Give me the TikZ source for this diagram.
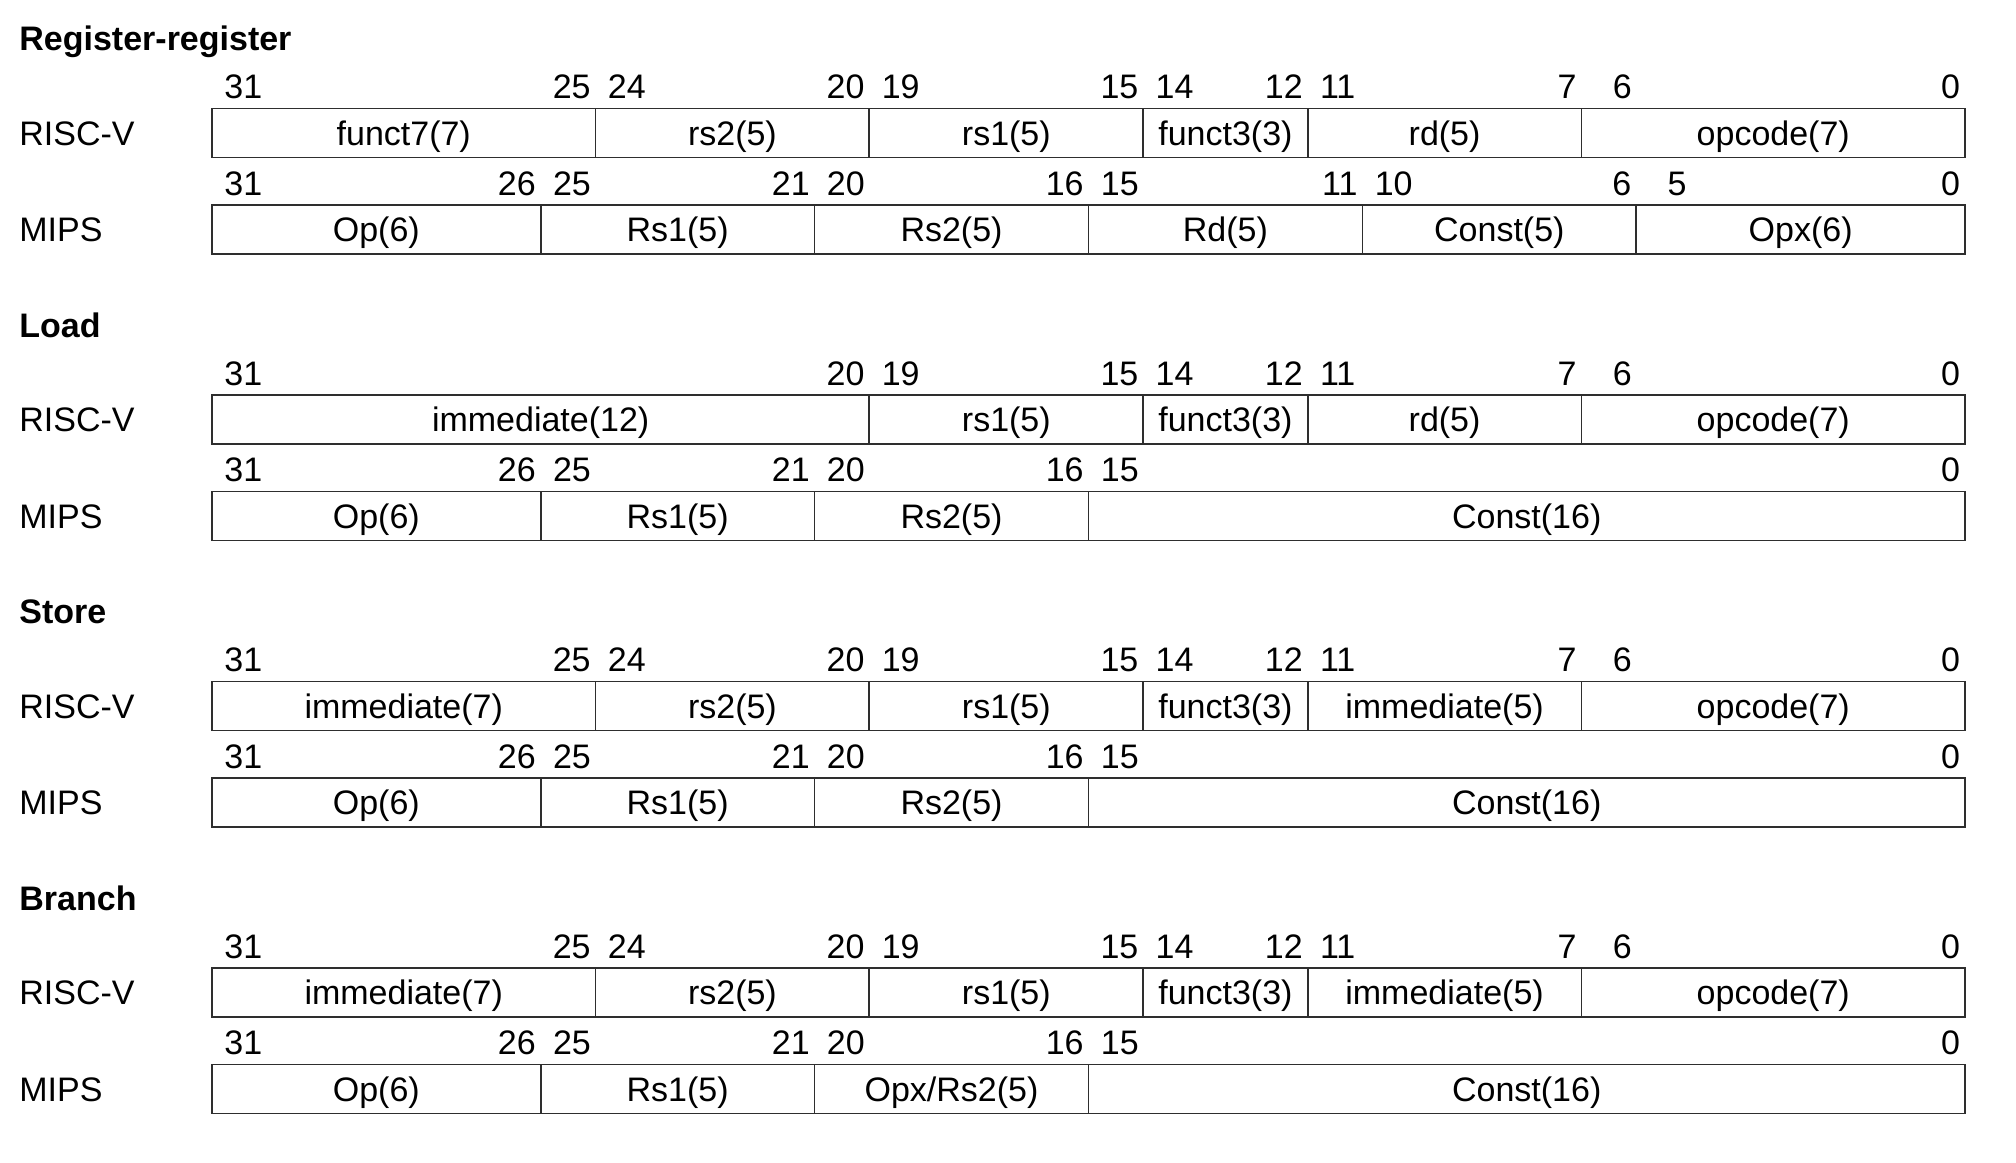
\documentclass[tikz,border=0pt]{standalone}
\usepackage{fontspec}
\setmainfont{Liberation Sans}
\tikzset{
  every node/.style={font=\fontsize{17}{20}\selectfont},
  fieldbox/.style={draw=black!82, line width=0.9pt, inner sep=0pt, minimum height=24.5pt, text height=12.2pt, text depth=0pt, anchor=center},
  hibit/.style={anchor=base west, inner sep=0pt},
  lobit/.style={anchor=base east, inner sep=0pt},
  rowlabel/.style={anchor=base west, inner sep=0pt},
  sectitle/.style={anchor=base west, inner sep=0pt, font=\fontsize{17}{20}\selectfont\bfseries},
}
% #1 name, #2 high bit, #3 low bit, #4 row top (px), #5 text
\newcommand\fld[5]{%
  \pgfmathsetmacro\xa{212+(31-#2)*54.78}%
  \pgfmathsetmacro\xb{212+(32-#3)*54.78}%
  \pgfmathsetmacro\xm{(\xa+\xb)/2}%
  \pgfmathsetmacro\wdt{(\xb-\xa)*0.5}%
  \node[fieldbox, minimum width=\wdt pt] (#1) at (\xm,#4+24.5) {#5};%
  \node[hibit] (#1h) at (\xa+12,#4-10) {\ifnum#2<10 \phantom{0}\fi#2};%
  \node[lobit] (#1l) at (\xb-4.5,#4-10) {#3};%
}
\newcommand\rlabel[3]{\node[rowlabel] (#1) at (19,#2+36.7) {#3};}
\begin{document}
\begin{tikzpicture}[x=0.5pt,y=-0.5pt]
\useasboundingbox (0,0) rectangle (2016,1162);
% ---------- Register-register
\node[sectitle] (t1) at (19,50.8) {Register-register};
\rlabel{l1r}{108.5}{RISC-V}
\fld{ar1}{31}{25}{108.5}{funct7(7)}
\fld{ar2}{24}{20}{108.5}{rs2(5)}
\fld{ar3}{19}{15}{108.5}{rs1(5)}
\fld{ar4}{14}{12}{108.5}{funct3(3)}
\fld{ar5}{11}{7}{108.5}{rd(5)}
\fld{ar6}{6}{0}{108.5}{opcode(7)}
\rlabel{l1m}{205.0}{MIPS}
\fld{am1}{31}{26}{205.0}{Op(6)}
\fld{am2}{25}{21}{205.0}{Rs1(5)}
\fld{am3}{20}{16}{205.0}{Rs2(5)}
\fld{am4}{15}{11}{205.0}{Rd(5)}
\fld{am5}{10}{6}{205.0}{Const(5)}
\fld{am6}{5}{0}{205.0}{Opx(6)}
% ---------- Load
\node[sectitle] (t2) at (19,337.3) {Load};
\rlabel{l2r}{395.0}{RISC-V}
\fld{br1}{31}{20}{395.0}{immediate(12)}
\fld{br3}{19}{15}{395.0}{rs1(5)}
\fld{br4}{14}{12}{395.0}{funct3(3)}
\fld{br5}{11}{7}{395.0}{rd(5)}
\fld{br6}{6}{0}{395.0}{opcode(7)}
\rlabel{l2m}{491.5}{MIPS}
\fld{bm1}{31}{26}{491.5}{Op(6)}
\fld{bm2}{25}{21}{491.5}{Rs1(5)}
\fld{bm3}{20}{16}{491.5}{Rs2(5)}
\fld{bm4}{15}{0}{491.5}{Const(16)}
% ---------- Store
\node[sectitle] (t3) at (19,623.8) {Store};
\rlabel{l3r}{681.5}{RISC-V}
\fld{cr1}{31}{25}{681.5}{immediate(7)}
\fld{cr2}{24}{20}{681.5}{rs2(5)}
\fld{cr3}{19}{15}{681.5}{rs1(5)}
\fld{cr4}{14}{12}{681.5}{funct3(3)}
\fld{cr5}{11}{7}{681.5}{immediate(5)}
\fld{cr6}{6}{0}{681.5}{opcode(7)}
\rlabel{l3m}{778.0}{MIPS}
\fld{cm1}{31}{26}{778.0}{Op(6)}
\fld{cm2}{25}{21}{778.0}{Rs1(5)}
\fld{cm3}{20}{16}{778.0}{Rs2(5)}
\fld{cm4}{15}{0}{778.0}{Const(16)}
% ---------- Branch
\node[sectitle] (t4) at (19,910.3) {Branch};
\rlabel{l4r}{968.0}{RISC-V}
\fld{dr1}{31}{25}{968.0}{immediate(7)}
\fld{dr2}{24}{20}{968.0}{rs2(5)}
\fld{dr3}{19}{15}{968.0}{rs1(5)}
\fld{dr4}{14}{12}{968.0}{funct3(3)}
\fld{dr5}{11}{7}{968.0}{immediate(5)}
\fld{dr6}{6}{0}{968.0}{opcode(7)}
\rlabel{l4m}{1064.5}{MIPS}
\fld{dm1}{31}{26}{1064.5}{Op(6)}
\fld{dm2}{25}{21}{1064.5}{Rs1(5)}
\fld{dm3}{20}{16}{1064.5}{Opx/Rs2(5)}
\fld{dm4}{15}{0}{1064.5}{Const(16)}
\end{tikzpicture}
\end{document}
